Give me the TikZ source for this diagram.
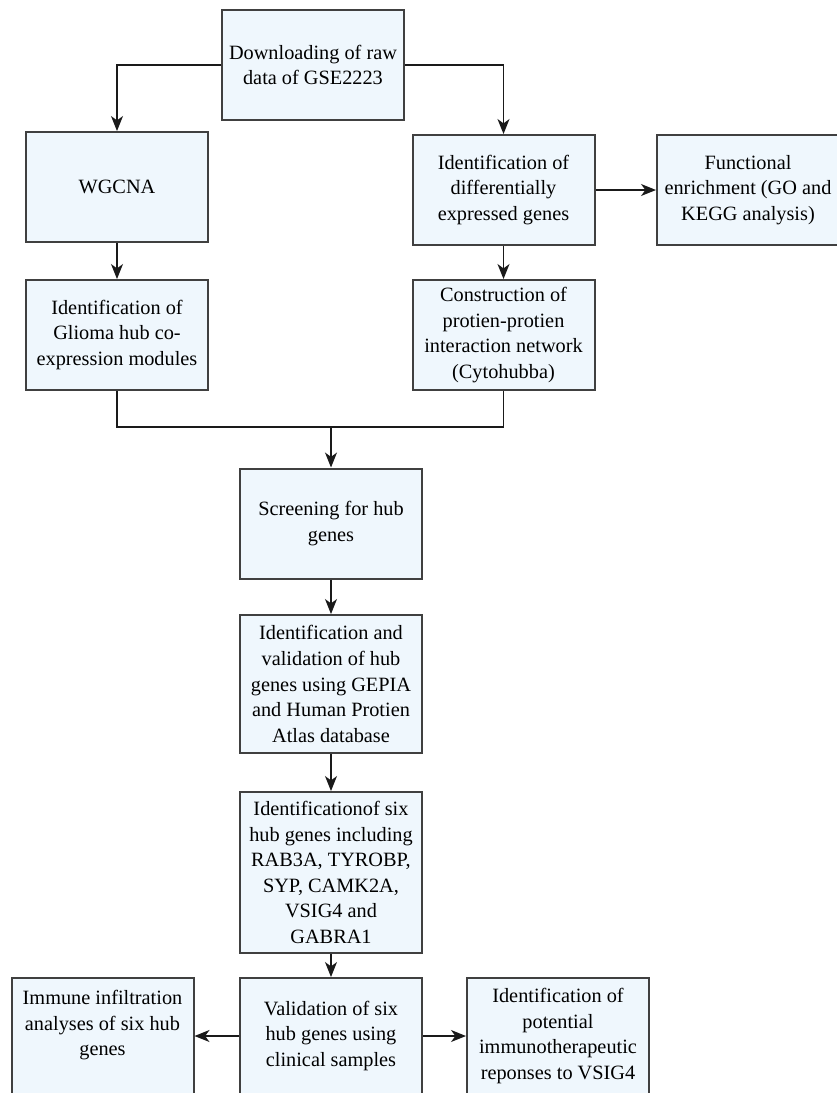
\documentclass[tikz,border=0pt]{standalone}
\usepackage{fontspec}
\setmainfont{Liberation Serif}
\usepackage{tikz}
\usepackage{xcolor}
\usetikzlibrary{shapes,arrows.meta,positioning}
\definecolor{boxfill}{RGB}{239, 247, 253}
\definecolor{boxline}{RGB}{64, 64, 64}
\definecolor{wire}{RGB}{26, 26, 26}
\tikzstyle{arrow} = [
    line width=0.65pt,
    -{Stealth[length=7.5pt,width=6pt,inset=2.2pt]},
    draw=wire
]
\tikzstyle{wireline} = [
    line width=0.65pt,
    draw=wire
]
\tikzstyle{stage} = [
    rectangle,
    minimum width=91pt,
    minimum height=55pt,
    inner sep=1pt,
    align=center,
    draw=boxline,
    fill=boxfill,
    line width=1pt,
    font=\fontsize{10.15pt}{12.8pt}\selectfont
]

\begin{document}
\begin{tikzpicture}[x=0.5pt, y=-0.5pt]
    \useasboundingbox (0,0) rectangle (836,1093);
    % first row
    \node[stage] (download) at (313,65) {Downloading of raw\\data of GSE2223};
    \node[stage] (wgcna) at (117,187) {WGCNA};
    \node[stage] (deg) at (503.5,190) {Identification of\\differentially\\expressed genes};
    \node[stage] (enrich) at (748,190) {Functional\\enrichment (GO and\\KEGG analysis)};
    \node[stage] (modules) at (117,335) {Identification of\\Glioma hub co-\\expression modules};
    \node[stage] (ppi) at (503.5,335) {Construction of\\protien-protien\\interaction network\\(Cytohubba)};
    % middle column
    \node[stage] (screen) at (331,523.5) {Screening for hub\\genes};
    \node[stage, minimum height=69pt] (gepia) at (331,684) {Identification and\\validation of hub\\genes using GEPIA\\and Human Protien\\Atlas database};
    \node[stage, minimum height=80.5pt] (sixhub) at (331,872.5) {Identificationof six\\hub genes including\\RAB3A, TYROBP,\\SYP, CAMK2A,\\VSIG4 and\\GABRA1};
    % last row
    \node[stage, minimum height=58pt] (clinical) at (331,1036) {Validation of six\\hub genes using\\clinical samples};
    \node[stage, minimum height=58pt] (immune) at (102.5,1036) {Immune infiltration\\analyses of six hub\\genes\\\mbox{}};
    \node[stage, minimum height=58pt] (vsig) at (558,1036) {Identification of\\potential\\immunotherapeutic\\reponses to VSIG4};
    \coordinate (merge) at (331,427);

    \draw[arrow] (download.west) -| (wgcna.north);
    \draw[arrow] (download.east) -| (deg.north);
    \draw[arrow] (deg.east) -- (enrich.west);
    \draw[arrow] (wgcna) -- (modules);
    \draw[arrow] (deg) -- (ppi);
    \draw[wireline] (modules.south) |- (merge) -| (ppi.south);
    \draw[arrow] (merge) -- (screen.north);
    \draw[arrow] (screen) -- (gepia);
    \draw[arrow] (gepia) -- (sixhub);
    \draw[arrow] (sixhub) -- (clinical);
    \draw[arrow] (clinical.west) -- (immune.east);
    \draw[arrow] (clinical.east) -- (vsig.west);
\end{tikzpicture}
\end{document}
